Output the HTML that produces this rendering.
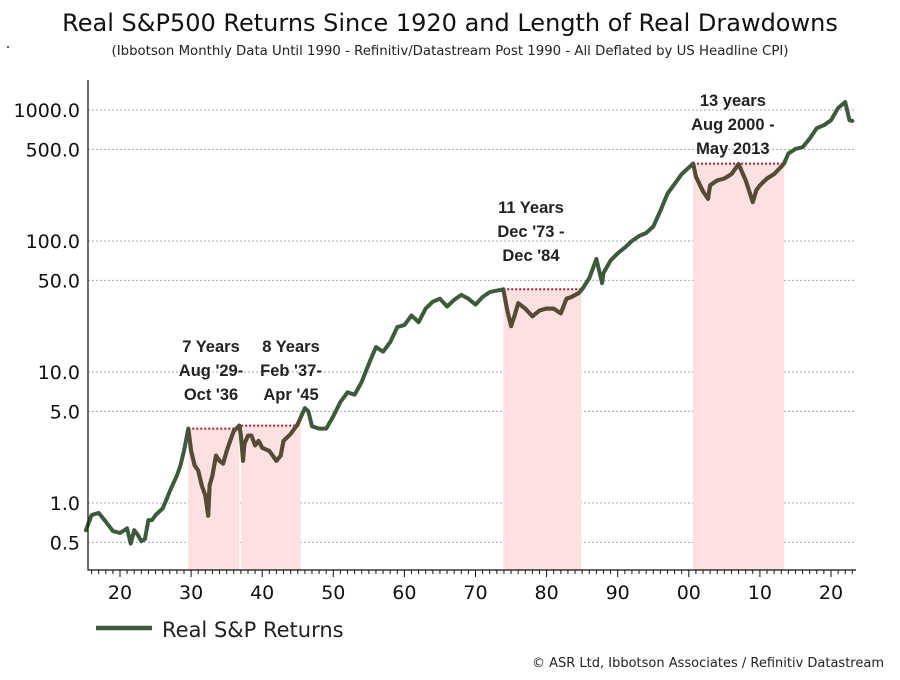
<!DOCTYPE html>
<html><head><meta charset="utf-8"><style>
body{margin:0;background:#fff;width:900px;height:675px;overflow:hidden;font-family:"Liberation Sans","DejaVu Sans",sans-serif}
</style></head><body>
<svg id="c" width="900" height="675" font-family="'DejaVu Sans','Liberation Sans',sans-serif">
<text x="450" y="31" text-anchor="middle" font-size="24" fill="#111">Real S&amp;P500 Returns Since 1920 and Length of Real Drawdowns</text>
<text x="450" y="55" text-anchor="middle" font-size="13.3" fill="#222">(Ibbotson Monthly Data Until 1990 - Refinitiv/Datastream Post 1990 - All Deflated by US Headline CPI)</text>
<circle cx="8" cy="47" r="1" fill="#333"/>
<g id="grid"></g><g id="shade"></g><g id="lines"></g><g id="axes"></g><g id="ann"></g>
<line x1="96" y1="628" x2="152" y2="628" stroke="#3e5a3c" stroke-width="4.5"/>
<text x="162" y="637" font-size="21" fill="#222">Real S&amp;P Returns</text>
<text x="884" y="667" text-anchor="end" font-size="13" fill="#222">© ASR Ltd, Ibbotson Associates / Refinitiv Datastream</text>
</svg>
<script>
const years=[1915.2,1916,1917,1918,1919,1920,1921,1921.5,1922,1922.5,1923,1923.5,1924,1924.5,1925,1926,1926.5,1927,1928,1928.5,1929,1929.6,1930,1930.5,1931,1931.5,1932,1932.4,1932.6,1933,1933.5,1934,1934.5,1935,1935.5,1936,1936.8,1937,1937.3,1937.5,1938,1938.5,1939,1939.5,1940,1941,1942,1942.6,1943,1944,1945,1946,1946.5,1947,1948,1949,1950,1951,1952,1953,1954,1955,1956,1957,1958,1959,1960,1961,1962,1963,1964,1965,1966,1967,1968,1969,1970,1971,1972,1973.9,1974.5,1975,1975.5,1976,1977,1978,1979,1980,1981,1982,1982.8,1983.5,1984.5,1985,1986,1987,1987.8,1988,1989,1990,1991,1992,1993,1994,1995,1996,1997,1998,1999,2000.6,2001,2002,2002.7,2003,2004,2005,2006,2007,2008,2009,2009.5,2010,2011,2012,2013.4,2014,2015,2016,2017,2018,2019,2020,2021,2022,2022.6,2023];
const values=[0.62,0.81,0.84,0.72,0.61,0.59,0.64,0.49,0.62,0.57,0.51,0.53,0.74,0.74,0.81,0.91,1.05,1.23,1.62,1.93,2.5,3.7,2.5,1.93,1.77,1.36,1.14,0.8,1.36,1.62,2.3,2.1,2.0,2.5,2.98,3.55,3.9,3.27,2.1,2.83,3.27,3.27,2.75,2.98,2.64,2.5,2.1,2.3,2.98,3.36,4.0,5.3,5.0,3.85,3.7,3.7,4.6,5.9,7.0,6.7,8.4,11.6,15.5,14.3,16.9,22,22.8,27,24,30.5,34.4,36.3,31.6,35.6,38.8,36.3,32.7,37.4,40.7,42.8,29,22.4,27,33.5,30.5,26.6,29.5,30.5,30.5,28,36.3,37.4,40,42.8,52,73,47.6,57,71,80.5,89,100,109,115,129,170,230,273,324,390,310,239,210,266,290,300,324,387,290,198,244,266,300,324,390,465,505,520,605,727,765,835,1035,1150,835,825];
const tickVals=[1000,500,100,50,10,5,1,0.5];
const tickLabels=["1000.0","500.0","100.0","50.0","10.0","5.0","1.0","0.5"];
const xTickYears=[1920,1930,1940,1950,1960,1970,1980,1990,2000,2010,2020];
const xTickLabels=["20","30","40","50","60","70","80","90","00","10","20"];
const ddStart=[1929.6,1937.05,1973.9,2000.6];
const ddEnd=[1936.8,1945.4,1984.9,2013.4];
const ddPeak=[3.7,3.9,42.8,390];
const ddText=[["7 Years","Aug '29-","Oct '36"],["8 Years","Feb '37-","Apr '45"],["11 Years","Dec '73 -","Dec '84"],["13 years","Aug 2000 -","May 2013"]];
const ddTextX=[1932.8,1944.05,1977.8,2006.2];
const ddTextY=[352,352,213,106];
const NS="http://www.w3.org/2000/svg";
const X0=88,X1=856,Y0=80,Y1=570;
const xs=y=>120+(y-1920)*7.11;
const ys=v=>110+(3-Math.log10(v))*131;
function mk(t,a,p){const e=document.createElementNS(NS,t);for(const k in a)e.setAttribute(k,a[k]);p.appendChild(e);return e;}
const G=id=>document.getElementById(id);
tickVals.forEach((v,i)=>{
  const l=mk('line',{x1:X0,x2:X1,y1:ys(v),y2:ys(v),stroke:'#aaa','stroke-width':1,'stroke-dasharray':'2,2'},G('grid'));
  
  
  const t=mk('text',{x:80,y:ys(v)+7,'text-anchor':'end','font-size':19,fill:'#111'},G('axes'));t.textContent=tickLabels[i];
  
  
});
const ax=mk('path',{d:`M${X0},${Y0}V${Y1}H${X1}`,stroke:'#111',fill:'none','stroke-width':1.2},G('axes'));


for(let y=1916;y<=2023;y++){
  const maj=y%10===0;
  const tk=mk('line',{x1:xs(y),x2:xs(y),y1:Y1,y2:Y1+(maj?7:4),stroke:'#111','stroke-width':1},G('axes'));
  
  
}
xTickYears.forEach((y,i)=>{
  const t=mk('text',{x:xs(y),y:599,'text-anchor':'middle','font-size':19,fill:'#111'},G('axes'));t.textContent=xTickLabels[i];
  
  
});
const clip=mk('clipPath',{id:'ddclip'},G('c'));
ddStart.forEach((s,i)=>{
  const r=mk('rect',{x:xs(s),y:ys(ddPeak[i]),width:xs(ddEnd[i])-xs(s),height:Y1-ys(ddPeak[i]),fill:'#fde0e0'},G('shade'));
  
  
  mk('rect',{x:xs(s),y:0,width:xs(ddEnd[i])-xs(s),height:675},clip);
  const pl=mk('line',{x1:xs(s),x2:xs(ddEnd[i]),y1:ys(ddPeak[i]),y2:ys(ddPeak[i]),stroke:'#a02030','stroke-width':2,'stroke-dasharray':'2,2'},G('shade'));
  
  
  ddText[i].forEach((s2,j)=>{
    const t=mk('text',{x:xs(ddTextX[i]),y:ddTextY[i]+j*24,'text-anchor':'middle','font-size':16.5,'font-weight':'bold','font-family':"'Liberation Sans',sans-serif",fill:'#222'},G('ann'));t.textContent=s2;
    
    
  });
});
const d=years.map((y,i)=>(i?'L':'M')+xs(y).toFixed(1)+','+ys(values[i]).toFixed(1)).join('');
const p=mk('path',{d,stroke:'#3e5a3c',fill:'none','stroke-width':4,'stroke-linejoin':'round','stroke-linecap':'round'},G('lines'));


const p2=mk('path',{d,stroke:'#574a36',fill:'none','stroke-width':4,'stroke-linejoin':'round','clip-path':'url(#ddclip)'},G('lines'));


</script>
</body></html>
